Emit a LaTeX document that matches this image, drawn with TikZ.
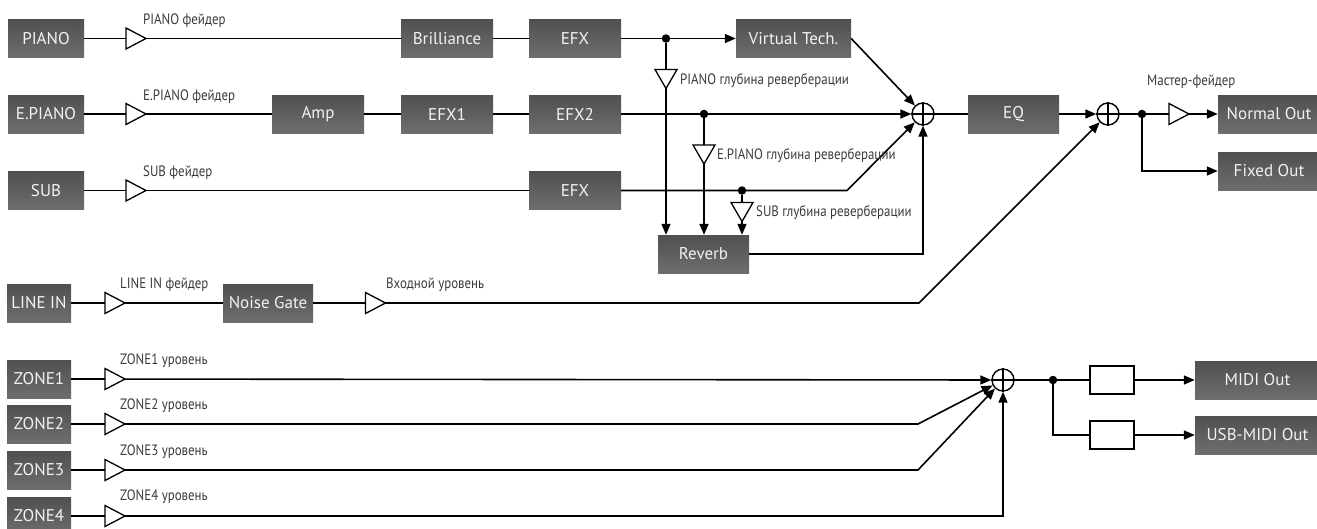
\documentclass[tikz,border=0pt]{standalone}
\usepackage{fontspec}
\setmainfont{PT Sans}
\newfontfamily\labfont[FakeStretch=0.86]{PT Sans}
\usetikzlibrary{arrows.meta}
\definecolor{boxtop}{HTML}{505050}
\definecolor{boxbot}{HTML}{6E6E6E}
\definecolor{labcol}{HTML}{3A3A3A}
\definecolor{boxtxt}{HTML}{F2F2F2}
\begin{document}
\begin{tikzpicture}[x=1pt,y=-1pt,
  box/.style={top color=boxtop,bottom color=boxbot,draw=none,text=boxtxt,
    font=\fontsize{17}{17}\selectfont,inner sep=0pt,minimum height=38pt,minimum width=#1},
  box/.default=92pt,
  lab/.style={font=\labfont\fontsize{15}{15}\selectfont,text=labcol,inner sep=0pt,anchor=west},
  wire/.style={line width=1.6pt},
  arr/.style={wire,-{Triangle[length=11pt,width=9pt]}},
  dot/.style={circle,fill=black,inner sep=0pt,minimum size=8.5pt},
  sum/.style={circle,draw,line width=1.4pt,minimum size=22pt,inner sep=0pt},
  wbox/.style={draw,line width=1.4pt,fill=white,minimum width=44pt,minimum height=28pt,inner sep=0pt},
  ampst/.style={draw,fill=white,line width=1.3pt,line join=miter},
  ampr/.pic={\path[ampst] (-10,-10.5) -- (10,0) -- (-10,10.5) -- cycle;},
  ampd/.pic={\path[ampst] (-11,-9.5) -- (11,-9.5) -- (0,9.5) -- cycle;}
]
\useasboundingbox (0,0) rectangle (1317,528);

% ---------- boxes ----------
\node[box=76pt] (PIANO) at (46,38.5) {PIANO};
\node[box=76pt] (EPIANO) at (46,114) {E.PIANO};
\node[box=76pt] (SUB) at (46,190.5) {SUB};
\node[box] (Brill) at (447,38.5) {Brilliance};
\node[box] (EFXa) at (575,38.5) {EFX};
\node[box=115pt] (VT) at (793.5,38.5) {Virtual Tech.};
\node[box] (Amp) at (318,114) {Amp};
\node[box] (EFX1) at (447,114) {EFX1};
\node[box] (EFX2) at (575,114) {EFX2};
\node[box] (EFXs) at (575,190.5) {EFX};
\node[box=91pt] (Reverb) at (703.5,254) {Reverb};
\node[box=91pt] (EQ) at (1013.5,114) {EQ};
\node[box=102pt] (NOut) at (1269,114) {Normal Out};
\node[box=102pt] (FOut) at (1269,171) {Fixed Out};
\node[box=64pt] (LINEIN) at (39,303) {LINE IN};
\node[box=90pt] (NGate) at (268,303) {Noise Gate};
\node[box=64pt] (ZONE1) at (39,379) {ZONE1};
\node[box=64pt] (ZONE2) at (39,424) {ZONE2};
\node[box=64pt] (ZONE3) at (39,470) {ZONE3};
\node[box=64pt] (ZONE4) at (39,516) {ZONE4};
\node[box=125pt] (MIDI) at (1257.5,380) {MIDI Out};
\node[box=125pt] (USB) at (1257.5,435) {USB-MIDI Out};
\node[wbox] (W1) at (1112,380) {};
\node[wbox] (W2) at (1112,435) {};

% ---------- sums and junctions ----------
\node[sum] (S1) at (923,114) {};
\node[sum] (S2) at (1108,114) {};
\node[sum] (S3) at (1003,380) {};
\foreach \s in {S1,S2,S3}{\draw[line width=1.4pt] (\s.north) -- (\s.south) (\s.west) -- (\s.east);}
\node[dot] (d1) at (666,38.5) {};
\node[dot] (d2) at (704,114) {};
\node[dot] (d3) at (742,190.5) {};
\node[dot] (d4) at (1142,114) {};
\node[dot] (d5) at (1053,380) {};
\coordinate (b3) at (847,190.5);
\coordinate (b4) at (919,303);
\coordinate (b5) at (918,424);
\coordinate (b6) at (918,470);

% ---------- connectors ----------
\draw[wire] (PIANO.east) -- (Brill.west);
\draw[wire] (Brill.east) -- (EFXa.west);
\draw[arr] (EFXa.east) -- (VT.west);
\draw[arr] (d1) -- (d1 |- Reverb.north);
\draw[arr] (VT.east) -- (S1);
\draw[wire] (EPIANO.east) -- (Amp.west);
\draw[wire] (Amp.east) -- (EFX1.west);
\draw[wire] (EFX1.east) -- (EFX2.west);
\draw[arr] (EFX2.east) -- (S1);
\draw[arr] (d2) -- (d2 |- Reverb.north);
\draw[wire] (SUB.east) -- (EFXs.west);
\draw[arr] (EFXs.east) -- (b3) -- (S1);
\draw[arr] (d3) -- (d3 |- Reverb.north);
\draw[arr] (Reverb.east) -- (S1 |- Reverb.east) -- (S1.south);
\draw[wire] (S1.east) -- (EQ.west);
\draw[arr] (EQ.east) -- (S2);
\draw[arr] (S2.east) -- (NOut.west);
\draw[arr] (d4) -- (d4 |- FOut.west) -- (FOut.west);
\draw[wire] (LINEIN.east) -- (NGate.west);
\draw[arr] (NGate.east) -- (b4) -- (S2);
\draw[arr] (ZONE1.east) -- (S3);
\draw[arr] (ZONE2.east) -- (b5) -- (S3);
\draw[arr] (ZONE3.east) -- (b6) -- (S3);
\draw[arr] (ZONE4.east) -- (S3 |- ZONE4.east) -- (S3.south);
\draw[wire] (S3.east) -- (W1.west);
\draw[arr] (W1.east) -- (MIDI.west);
\draw[wire] (d5) -- (d5 |- W2.west) -- (W2.west);
\draw[arr] (W2.east) -- (USB.west);

% ---------- amplifier triangles ----------
\pic (a1) at (136,38.5) {ampr};
\pic (a2) at (136,114) {ampr};
\pic (a3) at (136,190.5) {ampr};
\pic (a4) at (115,303) {ampr};
\pic (a5) at (375.5,303) {ampr};
\pic (a6) at (115,379) {ampr};
\pic (a7) at (115,424) {ampr};
\pic (a8) at (115,470) {ampr};
\pic (a9) at (115,516) {ampr};
\pic (a10) at (1179,114) {ampr};
\pic (r1) at (666,79) {ampd};
\pic (r2) at (704,154.5) {ampd};
\pic (r3) at (742,212) {ampd};

% ---------- labels ----------
\node[lab] (l1) at (143,21) {PIANO фейдер};
\node[lab] (l2) at (143,97) {E.PIANO фейдер};
\node[lab] (l3) at (143,173) {SUB фейдер};
\node[lab] (l4) at (680,81) {PIANO глубина реверберации};
\node[lab] (l5) at (717,156) {E.PIANO глубина реверберации};
\node[lab] (l6) at (756,213) {SUB глубина реверберации};
\node[lab] (l7) at (1147,82) {Мастер-фейдер};
\node[lab] (l8) at (120,285) {LINE IN фейдер};
\node[lab] (l9) at (386,285) {Входной уровень};
\node[lab] (l10) at (120,361) {ZONE1 уровень};
\node[lab] (l11) at (120,406) {ZONE2 уровень};
\node[lab] (l12) at (120,452) {ZONE3 уровень};
\node[lab] (l13) at (120,497) {ZONE4 уровень};
\end{tikzpicture}
\end{document}
